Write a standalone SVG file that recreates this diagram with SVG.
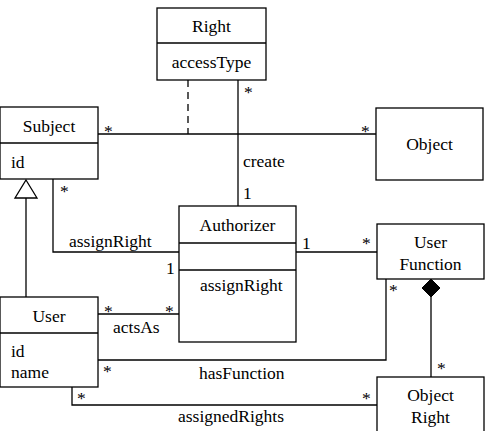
<svg xmlns="http://www.w3.org/2000/svg" width="492" height="431" viewBox="0 0 492 431" font-family="'Liberation Serif', 'Times New Roman', 'DejaVu Serif', serif" font-size="17.5">
<style>
.box{fill:#fff;stroke:#000;stroke-width:1.3}
.ln{fill:none;stroke:#000;stroke-width:1.3}
text{font-family:'Liberation Serif','Times New Roman','DejaVu Serif',serif;font-size:17.5px;fill:#000}
.c{text-anchor:middle}
</style>
<rect width="492" height="431" fill="#fff"/>
<g id="connectors">
<line class="ln" x1="188" y1="80" x2="188" y2="134" stroke-dasharray="7,5"/>
<line class="ln" x1="238" y1="80" x2="238" y2="206"/>
<line class="ln" x1="98" y1="134" x2="376" y2="134"/>
<polyline class="ln" points="53,179 53,252 179,252"/>
<line class="ln" x1="296" y1="252" x2="377" y2="252"/>
<line class="ln" x1="26" y1="198" x2="26" y2="297"/>
<polygon class="box" points="26,180 37,198 15,198"/>
<line class="ln" x1="98" y1="314" x2="179" y2="314"/>
<polyline class="ln" points="386,279 386,360 98,360"/>
<polyline class="ln" points="72,387 72,405 377,405"/>
<line class="ln" x1="431" y1="297" x2="431" y2="377"/>
<polygon points="431,279 440,288 431,297 422,288" fill="#000" stroke="#000"/>
<text x="244" y="98">*</text>
<text x="243" y="167">create</text>
<text x="243" y="199">1</text>
<text x="104" y="137">*</text>
<text x="361" y="137">*</text>
<text x="60" y="197">*</text>
<text x="69" y="247">assignRight</text>
<text x="166" y="274">1</text>
<text x="302" y="249">1</text>
<text x="362" y="249">*</text>
<text x="389" y="296">*</text>
<text x="104" y="317">*</text>
<text x="165" y="317">*</text>
<text x="113" y="333">actsAs</text>
<text x="103" y="377">*</text>
<text x="199" y="379">hasFunction</text>
<text x="437" y="374">*</text>
<text x="77" y="404">*</text>
<text x="362" y="404">*</text>
<text x="178" y="422">assignedRights</text>
</g>
<g id="right">
<rect class="box" x="157" y="8" width="109" height="72"/>
<line class="ln" x1="157" y1="43" x2="266" y2="43"/>
<text class="c" x="211.5" y="32">Right</text>
<text class="c" x="211.5" y="68">accessType</text>
</g>
<g id="subject">
<rect class="box" x="0" y="107" width="98" height="72"/>
<line class="ln" x1="0" y1="143" x2="98" y2="143"/>
<text class="c" x="49" y="132">Subject</text>
<text x="11" y="168">id</text>
</g>
<g id="object">
<rect class="box" x="376" y="108" width="107" height="72"/>
<text class="c" x="429.5" y="150">Object</text>
</g>
<g id="authorizer">
<rect class="box" x="179" y="206" width="117" height="136"/>
<line class="ln" x1="179" y1="243" x2="296" y2="243"/>
<line class="ln" x1="179" y1="270" x2="296" y2="270"/>
<text class="c" x="237.5" y="231">Authorizer</text>
<text x="200" y="291">assignRight</text>
</g>
<g id="userFunction">
<rect class="box" x="377" y="224" width="107" height="55"/>
<text class="c" x="430.5" y="248">User</text>
<text class="c" x="430.5" y="270">Function</text>
</g>
<g id="user">
<rect class="box" x="0" y="297" width="98" height="90"/>
<line class="ln" x1="0" y1="333" x2="98" y2="333"/>
<text class="c" x="49" y="322">User</text>
<text x="11" y="357">id</text>
<text x="11" y="378">name</text>
</g>
<g id="objectRight">
<rect class="box" x="377" y="377" width="107" height="70"/>
<text class="c" x="430.5" y="401">Object</text>
<text class="c" x="430.5" y="423">Right</text>
</g>
</svg>
